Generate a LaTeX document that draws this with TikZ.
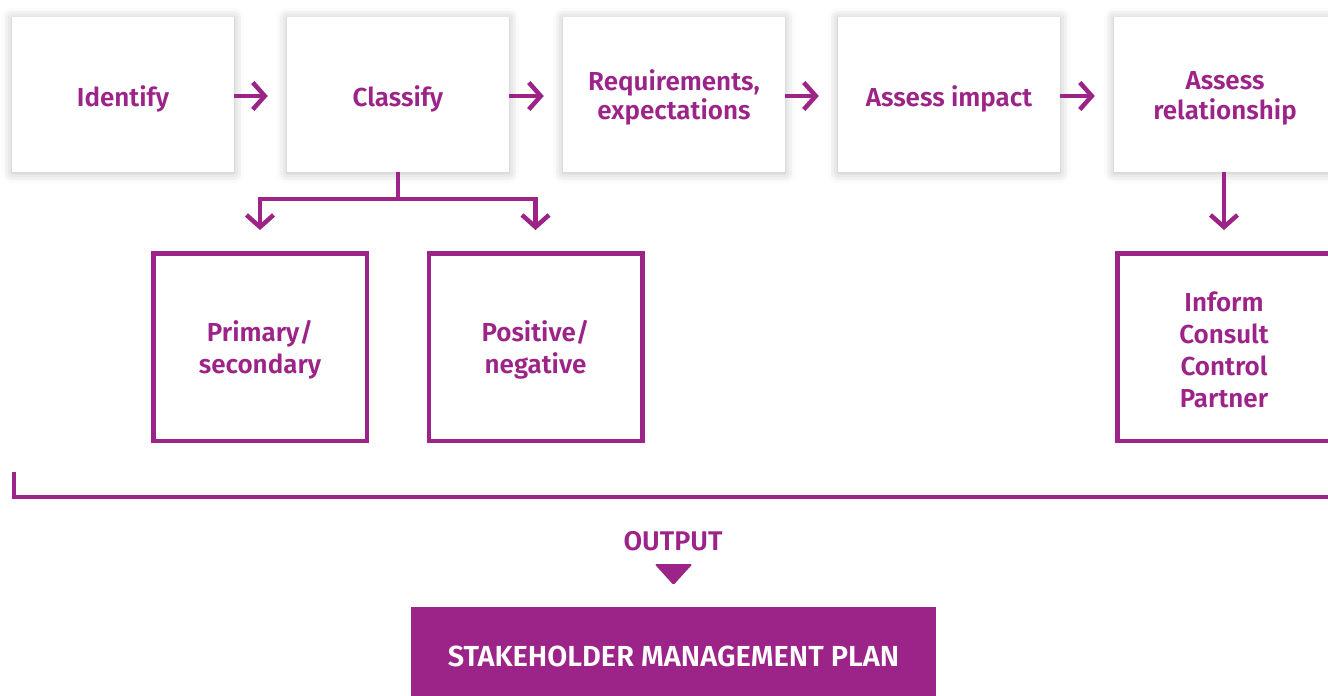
\documentclass[tikz,border=0pt]{standalone}
\usepackage{fontspec}
\setmainfont{Fira Sans}[BoldFont=* SemiBold]
\usetikzlibrary{arrows.meta,shadows.blur}
\definecolor{pur}{RGB}{156,36,136}
\tikzset{
  topbox/.style={fill=white, draw=none, minimum width=222pt, minimum height=155pt, inner sep=0pt,
    blur shadow={shadow xshift=0pt, shadow yshift=-1pt, shadow blur radius=10pt, shadow opacity=28}},
  toptext/.style={align=center, text=pur, inner sep=0pt, font=\bfseries\fontsize{26}{29.5}\selectfont},
  subbox/.style={fill=white, draw=pur, line width=4.5pt, minimum width=213.5pt, minimum height=187.5pt, inner sep=0pt},
  subtext/.style={align=center, text=pur, inner sep=0pt, font=\bfseries\fontsize{26}{32}\selectfont},
  conn/.style={draw=pur, line width=4.5pt},
  arr/.style={conn, -{Straight Barb[length=12pt, width=27pt]}},
  lbl/.style={text=pur, font=\bfseries\fontsize{27}{30}\selectfont, inner sep=0pt},
}
\begin{document}
\begin{tikzpicture}[x=1pt,y=-1pt]
\useasboundingbox (0,0) rectangle (1328,696);
\node[topbox] (a) at (123,94.5) {};
\node[topbox] (b) at (398,94.5) {};
\node[topbox] (c) at (674,94.5) {};
\node[topbox] (d) at (949,94.5) {};
\node[topbox] (e) at (1225,94.5) {};
\node[toptext] (at) at ([yshift=-4pt]a.center) {Identify};
\node[toptext] (bt) at ([yshift=-4pt]b.center) {Classify};
\node[toptext] (ct) at ([yshift=-3pt]c.center) {Requirements,\\expectations};
\node[toptext] (dt) at ([yshift=-4pt]d.center) {Assess impact};
\node[toptext] (et) at ([yshift=-4pt]e.center) {Assess\\relationship};
\foreach \s/\t in {a/b,b/c,c/d,d/e}{
  \draw[arr] ([yshift=-1.5pt]\s.east) -- ([xshift=-19pt,yshift=-1.5pt]\t.west);
}
\node[subbox] (p) at (260,347) {};
\node[subbox] (q) at (535.5,347) {};
\node[subbox] (r) at (1224,347) {};
\node[subtext] (pt) at ([yshift=-3pt]p.center) {Primary/\\secondary};
\node[subtext] (qt) at ([yshift=-3pt]q.center) {Positive/\\negative};
\node[subtext] (rt) at ([yshift=-3pt]r.center) {Inform\\Consult\\Control\\Partner};
\draw[conn] (b.south) -- ++(0,27) coordinate (br);
\draw[arr] (br) -| ([yshift=21pt]p.north);
\draw[arr] (br) -| ([yshift=21pt]q.north);
\draw[arr] (e.south -| r.north) -- ([yshift=21pt]r.north);
\coordinate (bl) at (14,472);
\coordinate (brr) at (1340,497);
\draw[conn] (bl) |- (brr);
\node[lbl] (out) at (673,541) {OUTPUT};
\fill[pur, rounded corners=1.5pt] (654.5,564) -- (692.5,564) -- (673.5,585) -- cycle;
\node[fill=pur, minimum width=525pt, minimum height=110pt, inner sep=0pt, anchor=north] (plan) at (673.5,607) {};
\node[text=white, font=\bfseries\fontsize{29}{32}\selectfont, inner sep=0pt] (plant) at (673.5,656) {STAKEHOLDER MANAGEMENT PLAN};
\end{tikzpicture}
\end{document}
